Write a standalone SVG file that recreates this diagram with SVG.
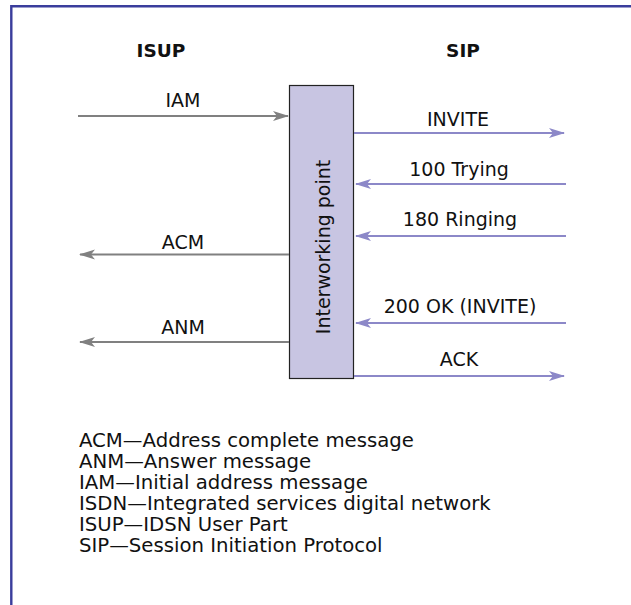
<svg xmlns="http://www.w3.org/2000/svg" width="631" height="605" viewBox="0 0 631 605">
  <style>
    .lbl { font-family: "DejaVu Sans", "Liberation Sans", sans-serif; font-size: 19px; fill: #111; }
    .leg { font-family: "DejaVu Sans", "Liberation Sans", sans-serif; font-size: 19.7px; fill: #111; }
    .hdr { font-family: "DejaVu Sans", "Liberation Sans", sans-serif; font-size: 18.5px; font-weight: bold; fill: #111; }
    .isup { stroke: #808080; stroke-width: 2; fill: none; }
    .sip { stroke: #8c88c8; stroke-width: 2; fill: none; }
  </style>
  <defs>
    <marker id="headGray" viewBox="0 0 16 12" refX="15" refY="6" markerWidth="16" markerHeight="12" markerUnits="userSpaceOnUse" orient="auto">
      <path d="M0,1 L16,6 L0,11 L4,6 Z" fill="#808080"/>
    </marker>
    <marker id="headSip" viewBox="0 0 16 12" refX="15" refY="6" markerWidth="16" markerHeight="12" markerUnits="userSpaceOnUse" orient="auto">
      <path d="M0,1 L16,6 L0,11 L4,6 Z" fill="#8c88c8"/>
    </marker>
  </defs>
  <rect width="631" height="605" fill="#fff"/>
  <!-- frame -->
  <path d="M11.3,605 V6.2 H631" fill="none" stroke="#3a3d9c" stroke-width="2.4"/>

  <text class="hdr" x="161" y="57" text-anchor="middle">ISUP</text>
  <text class="hdr" x="463" y="57" text-anchor="middle">SIP</text>

  <g id="interworking-point">
    <rect x="289.5" y="85.5" width="64" height="293" fill="#c8c5e2" stroke="#222" stroke-width="1.2"/>
    <text class="lbl" font-size="23" transform="translate(330,247) rotate(-90)" text-anchor="middle">Interworking point</text>
  </g>

  <g id="connectors">
    <line class="isup" x1="78" y1="116" x2="288" y2="116" marker-end="url(#headGray)"/>
    <line class="isup" x1="289" y1="254.5" x2="80" y2="254.5" marker-end="url(#headGray)"/>
    <line class="isup" x1="289" y1="342" x2="80" y2="342" marker-end="url(#headGray)"/>
    <line class="sip" x1="354" y1="133" x2="564" y2="133" marker-end="url(#headSip)"/>
    <line class="sip" x1="566" y1="184" x2="356" y2="184" marker-end="url(#headSip)"/>
    <line class="sip" x1="566" y1="236" x2="356" y2="236" marker-end="url(#headSip)"/>
    <line class="sip" x1="566" y1="323" x2="356" y2="323" marker-end="url(#headSip)"/>
    <line class="sip" x1="354" y1="376" x2="564" y2="376" marker-end="url(#headSip)"/>
  </g>

  <g id="labels">
    <text class="lbl" x="183" y="107" text-anchor="middle">IAM</text>
    <text class="lbl" x="183" y="249" text-anchor="middle">ACM</text>
    <text class="lbl" x="183" y="334" text-anchor="middle">ANM</text>
    <text class="lbl" x="458" y="126" text-anchor="middle">INVITE</text>
    <text class="lbl" x="459" y="176" text-anchor="middle">100 Trying</text>
    <text class="lbl" x="460" y="226" text-anchor="middle">180 Ringing</text>
    <text class="lbl" x="460" y="313" text-anchor="middle">200 OK (INVITE)</text>
    <text class="lbl" x="459" y="366" text-anchor="middle">ACK</text>
  </g>

  <g id="legend">
    <text class="leg" x="79" y="447">ACM—Address complete message</text>
    <text class="leg" x="79" y="468">ANM—Answer message</text>
    <text class="leg" x="79" y="489">IAM—Initial address message</text>
    <text class="leg" x="79" y="510">ISDN—Integrated services digital network</text>
    <text class="leg" x="79" y="531">ISUP—IDSN User Part</text>
    <text class="leg" x="79" y="552">SIP—Session Initiation Protocol</text>
  </g>
</svg>
